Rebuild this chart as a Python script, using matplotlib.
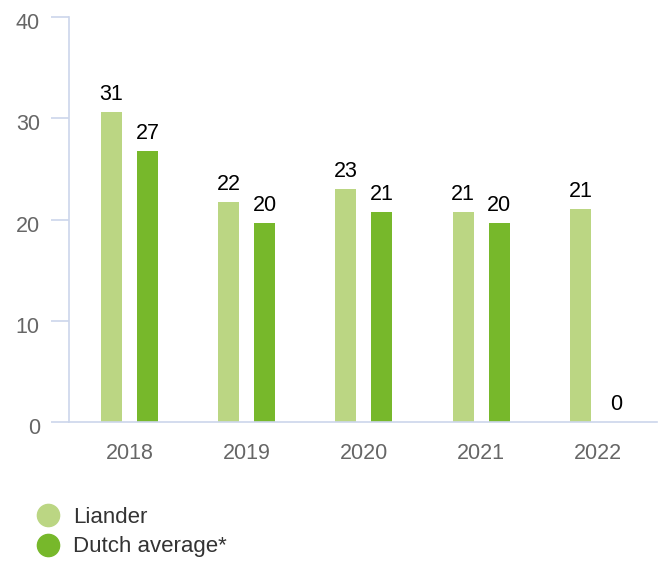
import matplotlib
matplotlib.use("Agg")
import matplotlib.pyplot as plt
import matplotlib.transforms as mtransforms
from matplotlib.lines import Line2D
import numpy as np

years = ["2018", "2019", "2020", "2021", "2022"]
liander = [30.6, 21.7, 23.0, 20.7, 21.0]
dutch_avg = [26.8, 19.7, 20.7, 19.7, 0]
series_names = ["Liander", "Dutch average*"]
y_ticks = [0, 10, 20, 30, 40]

light_green = "#bbd683"
dark_green = "#77b82b"
axis_col = "#ccd6eb"

plt.rcParams["font.family"] = ["Liberation Sans", "DejaVu Sans"]

fig = plt.figure(figsize=(6.64, 5.61), dpi=100)
ax = fig.add_axes([69 / 664, 139 / 561, 588 / 664, 405 / 561])

x = np.arange(len(years))
w = 0.18
off = 0.154
b1 = ax.bar(x - off, liander, w, color=light_green)
b2 = ax.bar(x + off, dutch_avg, w, color=dark_green)

# value labels above each bar
for bars, vals in ((b1, liander), (b2, dutch_avg)):
    for bar, v in zip(bars, vals):
        ax.annotate(f"{v:.0f}", (bar.get_x() + bar.get_width() / 2, v),
                    xytext=(0, 5), textcoords="offset points",
                    ha="center", va="bottom", fontsize=15.5, color="black")

ax.set_xlim(-0.515, 4.5)
ax.set_ylim(0, 40)
ax.set_xticks(x)
ax.set_xticklabels(years)
ax.set_yticks(y_ticks)

for s in ["top", "right"]:
    ax.spines[s].set_visible(False)
for s in ["left", "bottom"]:
    ax.spines[s].set_color(axis_col)
    ax.spines[s].set_linewidth(1.2)

ax.tick_params(axis="y", length=13, width=1.2, color=axis_col, pad=8,
               labelsize=15.5, labelcolor="#666666")
ax.tick_params(axis="x", length=0, pad=15, labelsize=15.5, labelcolor="#666666")

# y labels sit a little below their tick marks
shift = mtransforms.ScaledTranslation(0, -4 / 100, fig.dpi_scale_trans)
for lbl in ax.get_yticklabels():
    lbl.set_transform(lbl.get_transform() + shift)

handles = [Line2D([], [], marker="o", linestyle="none", markersize=16,
                  markerfacecolor=c, markeredgecolor=c)
           for c in (light_green, dark_green)]
leg = fig.legend(handles, series_names, loc="upper left",
                 bbox_to_anchor=(26 / 664, 1 - 498 / 561), frameon=False,
                 fontsize=16, handletextpad=0.5, labelspacing=0.38,
                 borderaxespad=0, handlelength=1.2)
for t in leg.get_texts():
    t.set_color("#333333")

fig.savefig("out.png", dpi=100)
